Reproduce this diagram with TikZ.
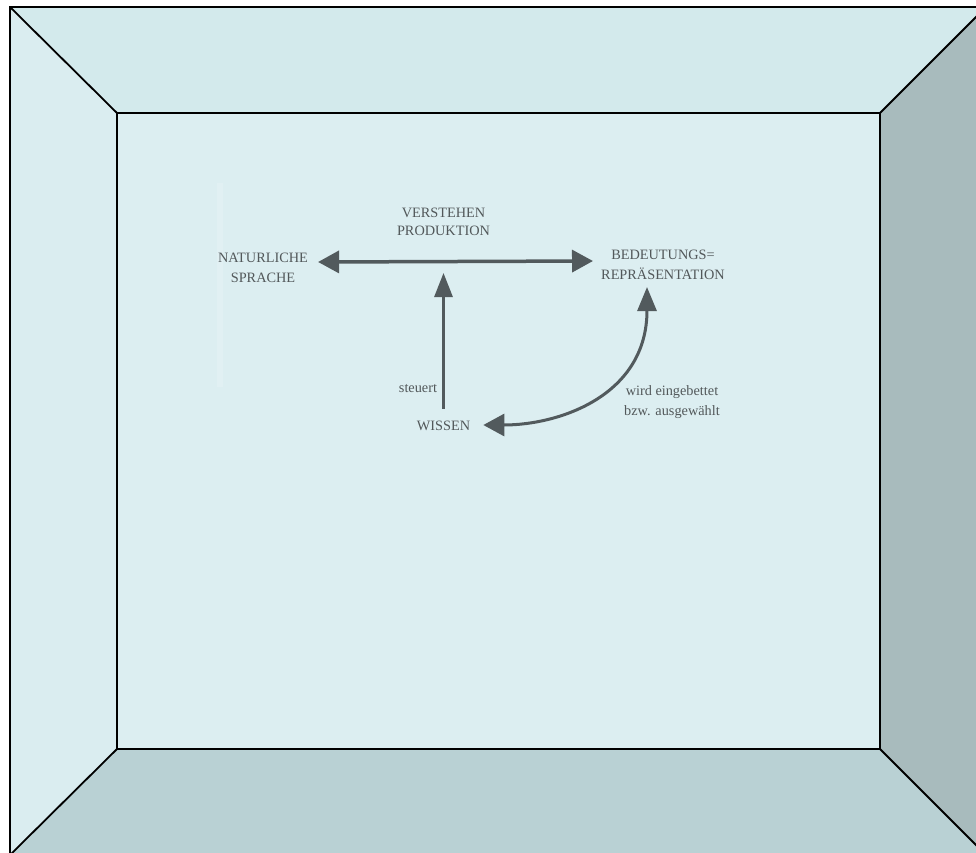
\documentclass[tikz,border=0pt]{standalone}
\usepackage{fontspec}
\setmainfont{Liberation Serif}
\usetikzlibrary{arrows.meta,calc}
\definecolor{innerc}{RGB}{220,238,241}
\definecolor{topc}{RGB}{211,234,236}
\definecolor{leftc}{RGB}{218,237,240}
\definecolor{rightc}{RGB}{168,187,189}
\definecolor{bottomc}{RGB}{185,209,212}
\definecolor{txtc}{RGB}{82,88,90}
\definecolor{arrc}{RGB}{82,90,93}
\begin{document}
\begin{tikzpicture}[x=1pt,y=-1pt,
  frame/.style={draw=black,line width=1.8pt,line join=miter},
  lbl/.style={text=txtc,align=center,inner sep=0pt,font=\fontsize{14.3}{20}\selectfont},
  conn/.style={draw=arrc,line width=3pt},
  dblhead/.style={{Triangle[length=21pt,width=22pt]}-{Triangle[length=21pt,width=22pt]}}]
\useasboundingbox (0,0) rectangle (976,852);
\clip (0,0) rectangle (976,852);
% frame panels
\fill[white] (0,0) rectangle (976,852);
\fill[topc] (10,7) -- (986,7) -- (880,113) -- (117,113) -- cycle;
\fill[leftc] (10,7) -- (117,113) -- (117,749) -- (10,855) -- cycle;
\fill[rightc] (986,7) -- (986,855) -- (880,749) -- (880,113) -- cycle;
\fill[bottomc] (10,855) -- (117,749) -- (880,749) -- (986,855) -- cycle;
\fill[innerc] (117,113) rectangle (880,749);
\draw[frame] (10,7) rectangle (986,855);
\draw[frame] (117,113) rectangle (880,749);
\draw[frame] (10,7) -- (117,113);
\draw[frame] (986,7) -- (880,113);
\draw[frame] (10,855) -- (117,749);
\draw[frame] (986,855) -- (880,749);
% faint scan edge
\fill[white,opacity=0.15] (217,183) rectangle (223,387);
% labels
\node[lbl] (nat) at (263,268) {NATURLICHE\\SPRACHE};
\node[lbl,font=\fontsize{14.3}{18}\selectfont] (vp) at (443.5,222) {VERSTEHEN\\PRODUKTION};
\node[lbl] (bed) at (663,265) {BEDEUTUNGS=\\REPRÄSENTATION};
\node[lbl] (wissen) at (443.5,426) {WISSEN};
\node[lbl] (steuert) at (418,389) {steuert};
\node[lbl] (wird) at (672,402) {wird eingebettet\\bzw. ausgewählt};
% connectors
\coordinate (hL) at ($(nat.east)+(10,-6)$);
\coordinate (hR) at ($(bed.west)+(-8,-4)$);
\draw[conn,line width=3.5pt,dblhead] (hL) -- (hR);
\draw[conn,-{Triangle[length=24pt,width=18pt]}] ($(wissen.north)+(0,-12)$) -- ($(wissen.north |- hL)+(0,11)$);
\draw[conn,{Triangle[length=24pt,width=19pt]}-{Triangle[length=21pt,width=22pt]}]
  ($(bed.south)+(-16,7)$) .. controls +(0,108) and +(77,0) .. ($(wissen.east)+(13,-1)$);
\end{tikzpicture}
\end{document}
